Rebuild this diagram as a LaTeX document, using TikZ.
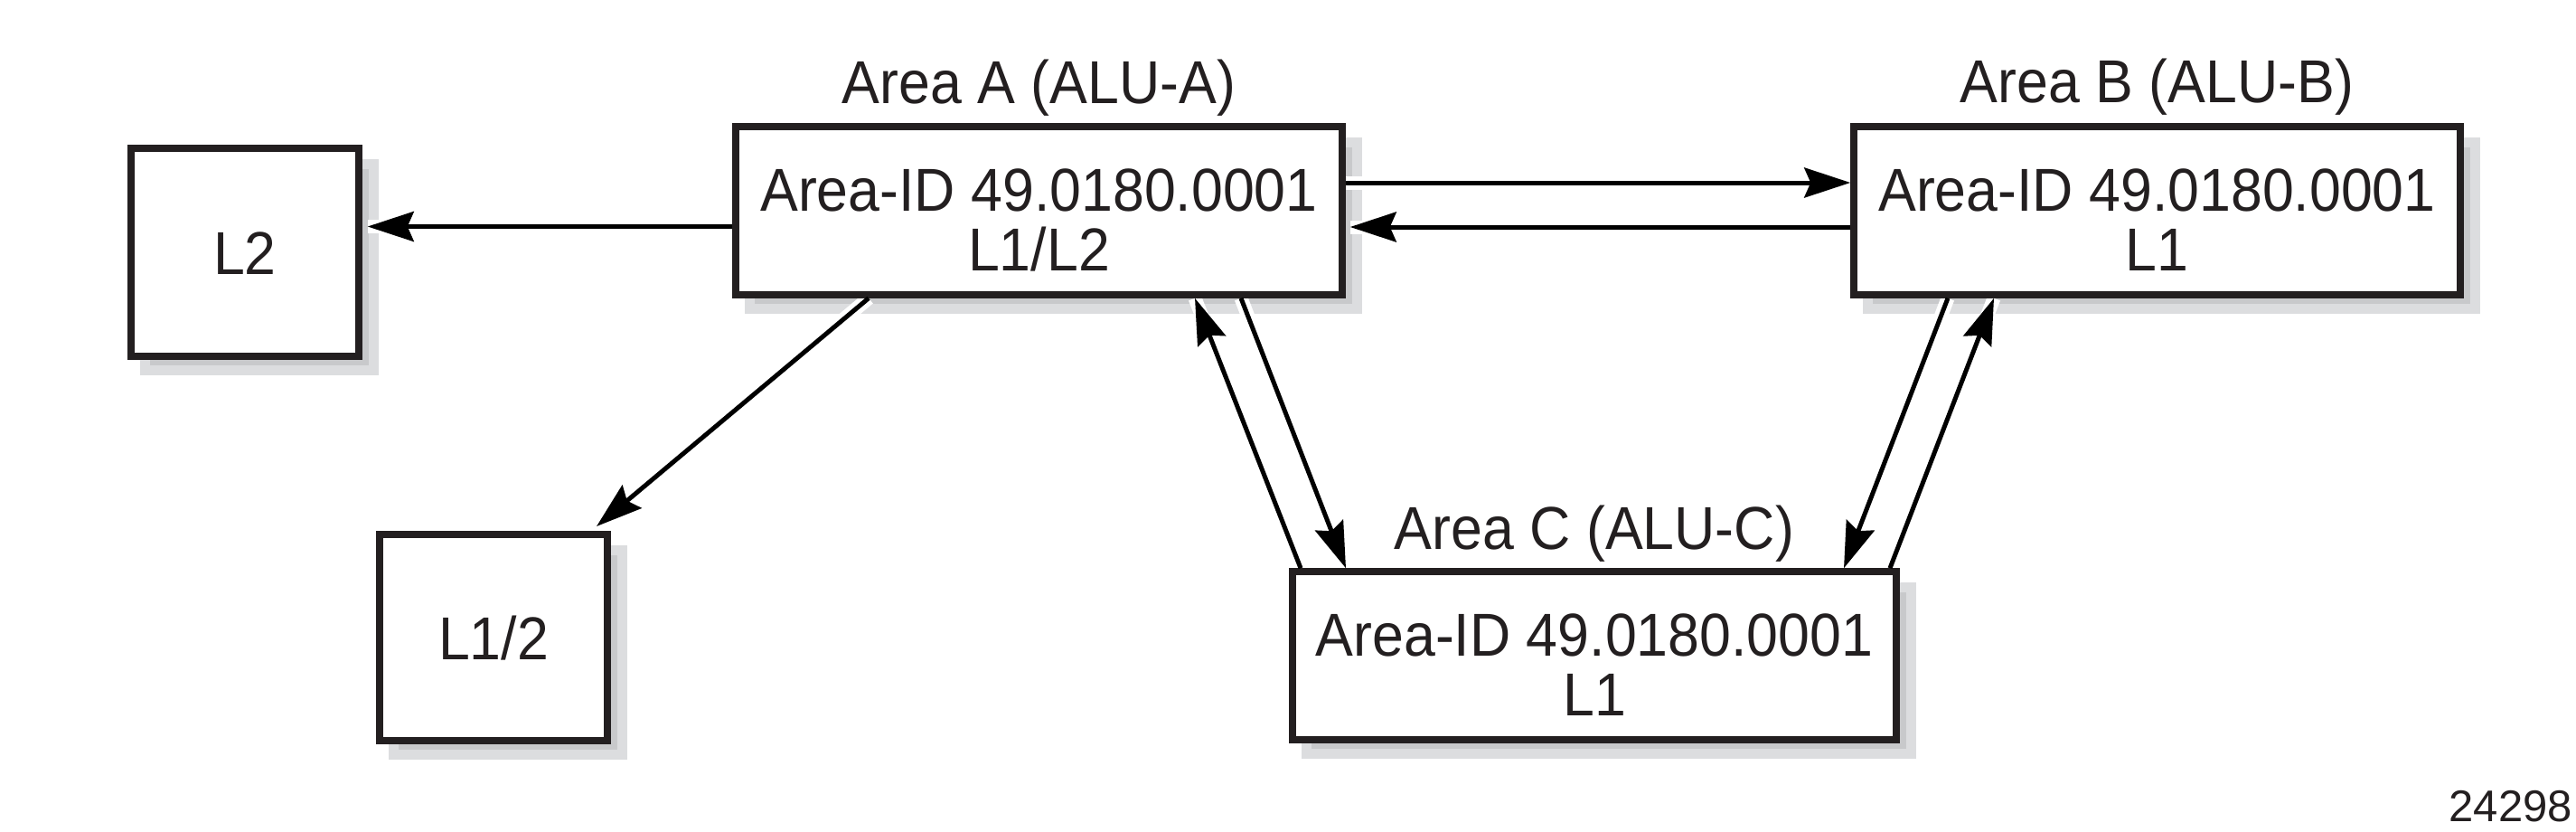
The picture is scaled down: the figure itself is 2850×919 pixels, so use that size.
\documentclass[tikz,border=0pt]{standalone}
\usepackage{fontspec}
\setmainfont{Liberation Sans}[FakeStretch=0.935]
\newfontfamily\numfont{Liberation Sans}
\usetikzlibrary{arrows.meta}
\pgfdeclarelayer{bg}
\pgfsetlayers{bg,main}
\definecolor{ink}{HTML}{231F20}
\definecolor{shlight}{HTML}{DCDDDF}
\definecolor{shdark}{HTML}{C8C9CB}
\tikzset{
  box/.style={draw=ink, line width=7.5pt, fill=white, inner sep=0pt},
  bigbox/.style={box, minimum width=671pt, minimum height=186pt},
  smallbox/.style={box, minimum width=252pt, minimum height=230pt},
  txt/.style={inner sep=0pt, text=ink, font=\fontsize{67}{66.6}\selectfont},
  arr/.style={line width=5pt, draw=black, -{Stealth[length=51pt,width=33pt,inset=7pt]}},
  halo/.style={line width=15pt, draw=white},
}
\newcommand\boxshadow[1]{%
  \begin{pgfonlayer}{bg}
  \fill[shlight] ([xshift=14pt,yshift=-16pt]#1.north west) rectangle ([xshift=18pt,yshift=-17pt]#1.south east);
  \fill[shdark] ([xshift=25pt,yshift=-27pt]#1.north west) rectangle ([xshift=7pt,yshift=-6pt]#1.south east);
  \end{pgfonlayer}}
\newcommand\conn[2]{%
  \begin{pgfonlayer}{bg}\draw[halo] #1 -- #2;\end{pgfonlayer}
  \draw[arr] #1 -- #2;}
\begin{document}
\begin{tikzpicture}[x=1pt,y=-1pt]
\useasboundingbox (0,0) rectangle (2850,919);
% boxes
\node[bigbox] (A) at (1149.5,233) {};
\node[bigbox] (B) at (2386.5,233) {};
\node[bigbox, minimum width=668pt] (C) at (1764,725) {};
\node[smallbox] (L2) at (271,279) {};
\node[smallbox, minimum height=228pt] (L12) at (546,705) {};
\boxshadow{A}\boxshadow{B}\boxshadow{C}\boxshadow{L2}\boxshadow{L12}
% texts
\node[txt, anchor=base] (Alab) at ([yshift=21.5pt]A.north) {Area A (ALU-A)};
\node[txt, anchor=base] (Blab) at ([yshift=22.5pt]B.north) {Area B (ALU-B)};
\node[txt, anchor=base] (Clab) at ([yshift=20.5pt]C.north) {Area C (ALU-C)};
\node[txt, anchor=base] (Aid) at (A.center) {Area-ID 49.0180.0001};
\node[txt, anchor=base] (Alv) at ([yshift=-66.6pt]A.center) {L1/L2};
\node[txt, anchor=base] (Bid) at (B.center) {Area-ID 49.0180.0001};
\node[txt, anchor=base] (Blv) at ([yshift=-66.6pt]B.center) {L1};
\node[txt, anchor=base] (Cid) at (C.center) {Area-ID 49.0180.0001};
\node[txt, anchor=base] (Clv) at ([yshift=-66.6pt]C.center) {L1};
\node[txt, anchor=base] (L2t) at ([yshift=-24pt]L2.center) {L2};
\node[txt, anchor=base] (L12t) at ([yshift=-24pt]L12.center) {L1/2};
\node[inner sep=0pt, anchor=base east, text=ink, font=\numfont\fontsize{49}{49}\selectfont] (fig) at (2846,908) {24298};
% connectors
\conn{([yshift=-17.5pt]A.west)}{([yshift=28.5pt,xshift=6pt]L2.east)}
\conn{([xshift=150.75pt]A.south west)}{([xshift=-15.75pt,yshift=5.25pt]L12.north east)}
\conn{([yshift=31pt]A.east)}{([yshift=31pt]B.west)}
\conn{([yshift=-18pt]B.west)}{([yshift=-18pt,xshift=5pt]A.east)}
\conn{([xshift=562.75pt]A.south west)}{([xshift=62.75pt]C.north west)}
\conn{([xshift=12.75pt]C.north west)}{([xshift=511.75pt]A.south west)}
\conn{([xshift=107.75pt]B.south west)}{([xshift=-61.75pt]C.north east)}
\conn{([xshift=-10.75pt]C.north east)}{([xshift=158.75pt]B.south west)}
\end{tikzpicture}
\end{document}
